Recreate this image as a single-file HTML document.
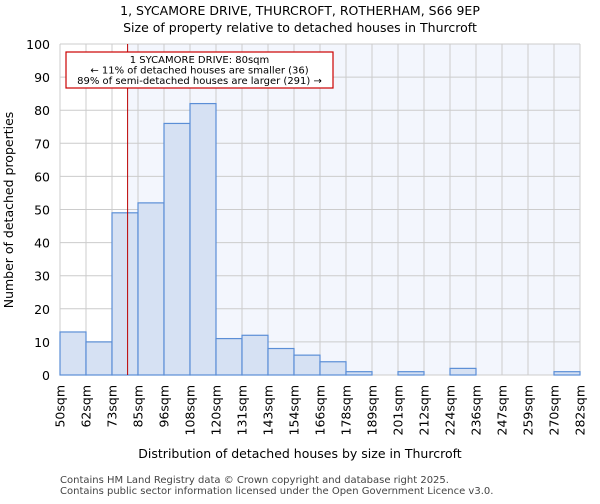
<!DOCTYPE html>
<html><head><meta charset="utf-8"><style>
body{margin:0;background:#fff;font-family:"DejaVu Sans","Liberation Sans",sans-serif;}
svg text{font-family:"DejaVu Sans","Liberation Sans",sans-serif;}
</style></head><body>
<svg id="chart" width="600" height="500" xmlns="http://www.w3.org/2000/svg">
<text x="300" y="15" text-anchor="middle" font-size="12.5">1, SYCAMORE DRIVE, THURCROFT, ROTHERHAM, S66 9EP</text>
<text x="300" y="32" text-anchor="middle" font-size="12.5">Size of property relative to detached houses in Thurcroft</text>
<g id="plot"></g>
<text x="300" y="458" text-anchor="middle" font-size="12.5">Distribution of detached houses by size in Thurcroft</text>
<text transform="translate(13,210) rotate(-90)" text-anchor="middle" font-size="12.5">Number of detached properties</text>
<text x="60" y="483" font-size="10" fill="#444">Contains HM Land Registry data © Crown copyright and database right 2025.</text>
<text x="60" y="494" font-size="10" fill="#444">Contains public sector information licensed under the Open Government Licence v3.0.</text>
</svg>
<script>
const binLabels=["50sqm","62sqm","73sqm","85sqm","96sqm","108sqm","120sqm","131sqm","143sqm","154sqm","166sqm","178sqm","189sqm","201sqm","212sqm","224sqm","236sqm","247sqm","259sqm","270sqm","282sqm"];
const counts=[13,10,49,52,76,82,11,12,8,6,4,1,0,1,0,2,0,0,0,1];
const yTicks=[0,10,20,30,40,50,60,70,80,90,100];
const markerBin=2.6;
const NS="http://www.w3.org/2000/svg";
const L=60,R=580,T=44,B=375,yMax=100;
const nb=counts.length;
const xs=i=>L+(R-L)*i/nb;
const ys=v=>B-(B-T)*v/yMax;
const g=document.getElementById('plot');
function mk(t,a){const e=document.createElementNS(NS,t);for(const k in a)e.setAttribute(k,a[k]);g.appendChild(e);return e;}
let e;
e=mk('rect',{x:L,y:T,width:R-L,height:B-T,fill:'#fff'});


const mx=xs(markerBin);
e=mk('rect',{x:mx,y:T,width:R-mx,height:B-T,fill:'#f3f6fd'});


yTicks.forEach(v=>{
 e=mk('line',{x1:L,x2:R,y1:ys(v),y2:ys(v),stroke:'#ccc','stroke-width':1});
 
 
 e=mk('text',{x:L-10,y:ys(v)+5,'text-anchor':'end','font-size':12.5});
 e.textContent=v;
 
 
});
binLabels.forEach((s,i)=>{
 e=mk('line',{x1:xs(i),x2:xs(i),y1:T,y2:B,stroke:'#ccc','stroke-width':1});
 
 
 e=mk('text',{transform:`translate(${xs(i)+4.5},${B+10}) rotate(-90)`,'text-anchor':'end','font-size':12.5});
 e.textContent=s;
 
 
});
counts.forEach((c,i)=>{
 e=mk('rect',{x:xs(i),y:ys(c),width:xs(i+1)-xs(i),height:B-ys(c),fill:'#d6e1f3',stroke:'#5b8ed6','stroke-width':1.2});
 
 
});
e=mk('line',{x1:mx,x2:mx,y1:T,y2:B,stroke:'#b00','stroke-width':1});


e=mk('rect',{x:66,y:52,width:267,height:36,fill:'#fff',stroke:'#c00','stroke-width':1.2});


["1 SYCAMORE DRIVE: 80sqm","← 11% of detached houses are smaller (36)","89% of semi-detached houses are larger (291) →"].forEach((t,i)=>{
 e=mk('text',{x:199.5,y:63+i*10.5,'text-anchor':'middle','font-size':10});
 e.textContent=t;
 
 
});
</script>
</body></html>
